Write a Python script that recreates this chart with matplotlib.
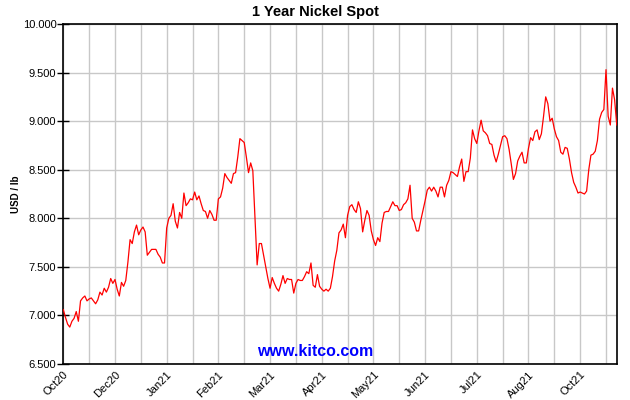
import numpy as np
import matplotlib
matplotlib.use("Agg")
import matplotlib.pyplot as plt
from matplotlib.ticker import FuncFormatter

plt.rcParams['font.family'] = ['Liberation Sans', 'DejaVu Sans']

# nickel spot, USD/lb, one value per trading day
prices = [
    7.06, 6.98, 6.91, 6.88, 6.94, 6.97, 7.04, 6.94, 7.15, 7.18,
    7.20, 7.15, 7.17, 7.18, 7.15, 7.12, 7.16, 7.24, 7.21, 7.28,
    7.24, 7.29, 7.38, 7.33, 7.37, 7.27, 7.20, 7.34, 7.30, 7.36,
    7.55, 7.78, 7.74, 7.86, 7.93, 7.83, 7.88, 7.91, 7.86, 7.62,
    7.65, 7.68, 7.68, 7.68, 7.63, 7.60, 7.54, 7.54, 7.90, 8.00,
    8.03, 8.15, 7.97, 7.90, 8.06, 8.00, 8.26, 8.13, 8.16, 8.20,
    8.19, 8.27, 8.19, 8.23, 8.15, 8.08, 8.07, 8.00, 8.08, 8.04,
    7.98, 7.98, 8.20, 8.22, 8.31, 8.46, 8.42, 8.39, 8.36, 8.46,
    8.47, 8.63, 8.82, 8.80, 8.78, 8.63, 8.47, 8.57, 8.49, 8.00,
    7.52, 7.74, 7.74, 7.62, 7.50, 7.38, 7.28, 7.39, 7.33, 7.28,
    7.25, 7.32, 7.41, 7.33, 7.38, 7.37, 7.37, 7.23, 7.33, 7.37,
    7.36, 7.36, 7.40, 7.45, 7.43, 7.54, 7.31, 7.29, 7.42, 7.30,
    7.27, 7.25, 7.27, 7.25, 7.28, 7.40, 7.56, 7.67, 7.85, 7.88,
    7.94, 7.80, 8.03, 8.12, 8.14, 8.09, 8.06, 8.17, 8.10, 7.86,
    7.98, 8.08, 8.03, 7.87, 7.78, 7.72, 7.80, 7.76, 7.95, 8.06,
    8.07, 8.07, 8.12, 8.17, 8.13, 8.13, 8.08, 8.09, 8.14, 8.16,
    8.20, 8.34, 8.00, 7.96, 7.87, 7.87, 7.98, 8.08, 8.18, 8.29,
    8.32, 8.28, 8.32, 8.28, 8.22, 8.32, 8.32, 8.22, 8.34, 8.39,
    8.48, 8.47, 8.45, 8.43, 8.53, 8.61, 8.38, 8.48, 8.48, 8.62,
    8.91, 8.82, 8.77, 8.90, 9.01, 8.90, 8.88, 8.85, 8.77, 8.76,
    8.65, 8.58, 8.66, 8.75, 8.84, 8.85, 8.82, 8.71, 8.56, 8.40,
    8.46, 8.59, 8.64, 8.68, 8.57, 8.57, 8.72, 8.83, 8.80, 8.89,
    8.91, 8.81, 8.87, 9.05, 9.25, 9.18, 9.00, 9.03, 8.92, 8.84,
    8.80, 8.68, 8.66, 8.73, 8.72, 8.61, 8.47, 8.37, 8.32, 8.26,
    8.27, 8.26, 8.25, 8.28, 8.50, 8.65, 8.66, 8.69, 8.80, 9.02,
    9.09, 9.12, 9.53, 9.05, 8.96, 9.34, 9.22, 8.96,
]

# x axis: gridline every 12 trading days, label on every other one
grid_step = 12
month_labels = ['Oct20', 'Dec20', 'Jan21', 'Feb21', 'Mar21', 'Apr21',
                'May21', 'Jun21', 'Jul21', 'Aug21', 'Oct21']
y_ticks = [6.5, 7.0, 7.5, 8.0, 8.5, 9.0, 9.5, 10.0]

days = np.arange(len(prices))

fig = plt.figure(figsize=(6.3, 4.0), dpi=100)
ax = fig.add_axes([0.1005, 0.09, 0.8785, 0.85])

ax.plot(days, prices, color='#ff0000', linewidth=0.9, zorder=3)

ax.set_xlim(0, len(prices) - 1)
ax.set_ylim(6.5, 10.0)

major = [i * 2 * grid_step for i in range(len(month_labels))]
minor = list(range(0, len(prices), grid_step))
ax.set_xticks(major)
ax.set_xticklabels(month_labels, rotation=45, ha='right', va='top',
                   rotation_mode='anchor', fontsize=8)
ax.set_xticks(minor, minor=True)
ax.tick_params(axis='x', which='both', length=0, pad=4)
ax.grid(True, axis='x', which='both', color='#c8c8c8', linewidth=1.0)

ax.set_yticks(y_ticks)
ax.yaxis.set_major_formatter(FuncFormatter(lambda v, p: f'{v:.3f}'))
ax.tick_params(axis='y', direction='inout', length=8, width=1,
               labelsize=8, pad=1)
ax.grid(True, axis='y', color='#c8c8c8', linewidth=1.0)
ax.set_axisbelow(True)

for s in ax.spines.values():
    s.set_linewidth(1.2)
    s.set_color('black')

ax.set_ylabel('USD / lb', fontsize=7, fontweight='bold', labelpad=1)
fig.suptitle('1 Year Nickel Spot', fontsize=10.5, fontweight='bold',
             x=0.5, y=0.988)

fig.text(0.5, 1 - 352 / 400, 'www.kitco.com', color='#0000ff',
         fontsize=11.5, fontweight='bold', ha='center', va='center')

fig.savefig('out.png', dpi=100, facecolor='white')
